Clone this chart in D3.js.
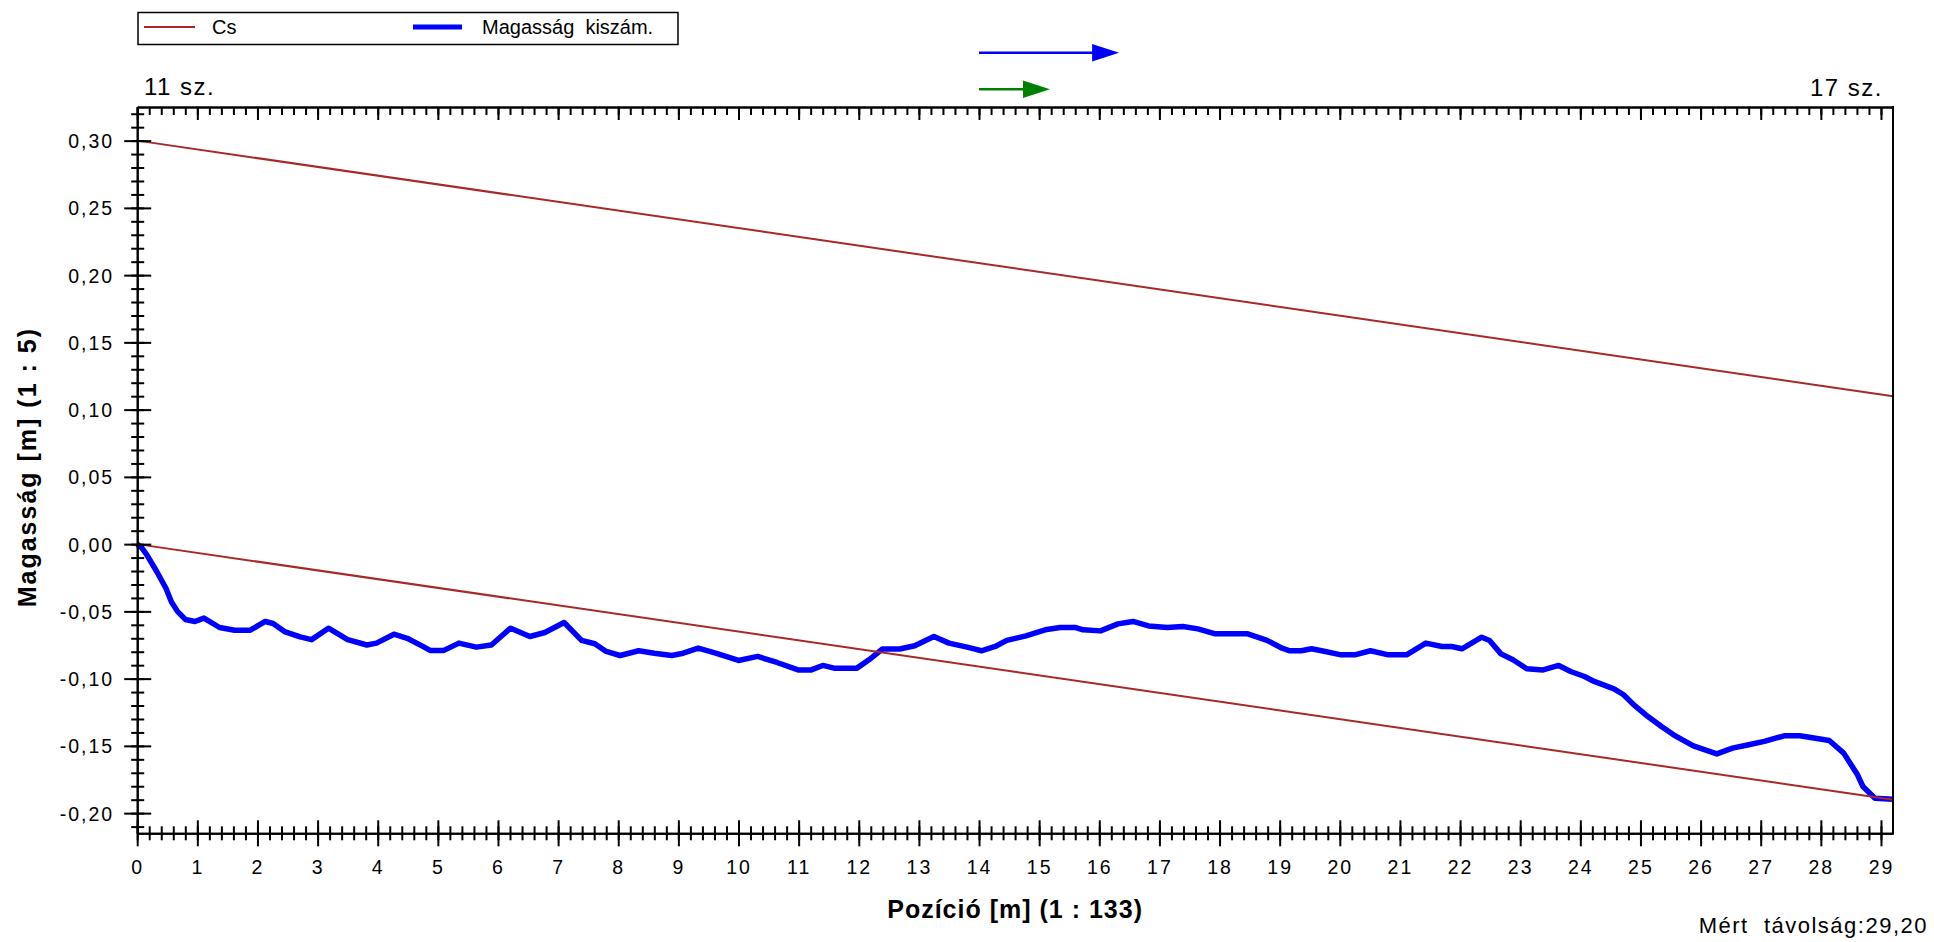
<!DOCTYPE html>
<html>
<head>
<meta charset="utf-8">
<script src="https://cdn.jsdelivr.net/npm/d3@7"></script>
<style>
  html, body { margin: 0; padding: 0; background: #fff; }
  svg { display: block; font-family: "Liberation Sans", Arial, Helvetica, sans-serif; }
</style>
</head>
<body>
<svg id="chart" width="1934" height="942"></svg>
<script>
// ---------- data ----------
const posX = [0,0.08,0.16,0.32,0.48,0.57,0.67,0.80,0.96,1.11,1.37,1.62,1.88,2.13,2.26,2.45,2.71,2.90,3.18,3.50,3.82,3.98,4.27,4.49,4.75,4.87,5.10,5.35,5.64,5.89,6.21,6.53,6.78,7.10,7.39,7.61,7.80,8.03,8.34,8.60,8.89,9.08,9.33,9.62,10.0,10.32,10.64,10.99,11.21,11.40,11.59,11.97,12.17,12.39,12.68,12.93,13.25,13.50,13.82,14.04,14.27,14.46,14.78,15.10,15.35,15.61,15.73,16.02,16.31,16.56,16.82,17.13,17.39,17.64,17.93,18.47,18.79,19.04,19.17,19.36,19.53,19.76,20.02,20.25,20.51,20.81,21.11,21.43,21.70,21.86,22.03,22.36,22.49,22.68,22.88,23.11,23.38,23.64,23.84,24.07,24.23,24.56,24.72,24.89,25.09,25.35,25.55,25.88,26.27,26.53,26.80,27.06,27.39,27.65,27.91,28.14,28.38,28.61,28.70,28.90,29.20];
const heightCalc = [0,-0.003,-0.008,-0.020,-0.033,-0.043,-0.050,-0.056,-0.0575,-0.055,-0.062,-0.064,-0.064,-0.0575,-0.059,-0.065,-0.069,-0.071,-0.0625,-0.071,-0.075,-0.0736,-0.067,-0.070,-0.076,-0.079,-0.079,-0.0736,-0.0766,-0.075,-0.0625,-0.0687,-0.0657,-0.0583,-0.0716,-0.0741,-0.0798,-0.0828,-0.0793,-0.0811,-0.0828,-0.0811,-0.0773,-0.081,-0.0865,-0.0835,-0.088,-0.0935,-0.0935,-0.0902,-0.0922,-0.0922,-0.086,-0.078,-0.078,-0.0756,-0.0687,-0.0736,-0.0768,-0.0793,-0.0761,-0.0716,-0.0682,-0.0637,-0.062,-0.062,-0.0637,-0.0645,-0.0593,-0.0575,-0.0608,-0.062,-0.0612,-0.063,-0.0667,-0.0667,-0.0716,-0.0774,-0.0793,-0.0793,-0.0778,-0.0798,-0.0823,-0.0823,-0.0793,-0.0823,-0.0823,-0.0736,-0.0761,-0.0761,-0.0778,-0.0692,-0.0716,-0.0816,-0.086,-0.0927,-0.0935,-0.0902,-0.0947,-0.0984,-0.1021,-0.1076,-0.112,-0.1195,-0.127,-0.1356,-0.1418,-0.150,-0.156,-0.1517,-0.1492,-0.1467,-0.1425,-0.1425,-0.1443,-0.146,-0.1554,-0.1715,-0.1802,-0.1889,-0.1896];

// Cs reference lines (start / end)
const csUpperX = [0, 29.2];
const csUpperY = [0.30, 0.11];
const csLowerX = [0, 29.2];
const csLowerY = [0.00, -0.19];

// direction arrows (start, end positions in m)
const arrowBlue = [14, 16.33];
const arrowGreen = [14, 15.18];

// axis ticks
const xMajorTicks = d3.range(0, 30, 1);
const xMinorTicks = d3.range(0, 146, 1).map(i => +(i * 0.2).toFixed(2));
const yMajorTicks = [-0.20,-0.15,-0.10,-0.05,0.00,0.05,0.10,0.15,0.20,0.25,0.30];
const yMinorTicks = d3.range(-21, 33, 1).map(i => +(i * 0.01).toFixed(2));

const legendLabels = ["Cs", "Magasság  kiszám."];
const xTitle = "Pozíció [m] (1 : 133)";
const yTitle = "Magasság [m] (1 : 5)";
const leftStation = "11 sz.";
const rightStation = "17 sz.";
const distanceNote = "Mért  távolság:29,20";

// ---------- layout ----------
const svg = d3.select("#chart");
const L = 137.2, R = 1893, T = 107, B = 833.3;
const x = d3.scaleLinear().domain([0, 29.2]).range([L, R]);
const y = d3.scaleLinear().domain([-0.215, 0.325]).range([B, T]);

const fmt = v => d3.format(".2f")(v).replace(".", ",").replace("−", "-");

// ---------- series ----------
const blueData = posX.map((d, i) => [d, heightCalc[i]]);
const line = d3.line().x(d => x(d[0])).y(d => y(d[1]));

svg.append("path")
  .datum(blueData)
  .attr("d", line)
  .attr("fill", "none")
  .attr("stroke", "#0000ff")
  .attr("stroke-width", 5.5)
  .attr("stroke-linejoin", "round");

[[csUpperX, csUpperY], [csLowerX, csLowerY]].forEach(([xs, ys]) => {
  svg.append("path")
    .datum(xs.map((d, i) => [d, ys[i]]))
    .attr("d", line)
    .attr("fill", "none")
    .attr("stroke", "#a82828")
    .attr("stroke-width", 2);
});

// ---------- axes ----------
function styleAxis(g) {
  g.selectAll("path.domain").attr("stroke", "#000").attr("stroke-width", 2);
  g.selectAll(".tick line").attr("stroke", "#000").attr("stroke-width", 2);
}

// bottom minor
const gxMinor = svg.append("g").attr("transform", `translate(0,${B})`)
  .call(d3.axisBottom(x).tickValues(xMinorTicks).tickSize(7).tickSizeOuter(0).tickFormat(""));
gxMinor.selectAll(".tick line").attr("y1", -7);
styleAxis(gxMinor);

// bottom major
const gx = svg.append("g").attr("transform", `translate(0,${B})`)
  .call(d3.axisBottom(x).tickValues(xMajorTicks).tickSize(13).tickSizeOuter(0).tickFormat(d3.format("d")));
gx.selectAll(".tick line").attr("y1", -13);
gx.selectAll(".tick text")
  .attr("y", 41).attr("dy", 0)
  .attr("fill", "#000")
  .style("font-size", "19.5px")
  .style("letter-spacing", "2px")
  .style("font-family", "'Liberation Sans', Arial, sans-serif");
styleAxis(gx);

// left minor
const gyMinor = svg.append("g").attr("transform", `translate(${L},0)`)
  .call(d3.axisLeft(y).tickValues(yMinorTicks).tickSize(6).tickSizeOuter(0).tickFormat(""));
gyMinor.selectAll(".tick line").attr("x1", 7);
styleAxis(gyMinor);

// left major
const gy = svg.append("g").attr("transform", `translate(${L},0)`)
  .call(d3.axisLeft(y).tickValues(yMajorTicks).tickSize(13).tickSizeOuter(0).tickFormat(fmt));
gy.selectAll(".tick line").attr("x1", 14);
gy.selectAll(".tick text")
  .attr("x", -23).attr("dy", "0.36em")
  .attr("fill", "#000")
  .style("font-size", "19.5px")
  .style("letter-spacing", "2px")
  .style("font-family", "'Liberation Sans', Arial, sans-serif");
styleAxis(gy);

// top border with inward ticks
const gtMinor = svg.append("g").attr("transform", `translate(0,${T})`)
  .call(d3.axisBottom(x).tickValues(xMinorTicks).tickSize(8).tickSizeOuter(0).tickFormat(""));
styleAxis(gtMinor);
const gtMajor = svg.append("g").attr("transform", `translate(0,${T})`)
  .call(d3.axisBottom(x).tickValues(xMajorTicks).tickSize(13).tickSizeOuter(0).tickFormat(""));
styleAxis(gtMajor);

// right border
svg.append("line")
  .attr("x1", R).attr("x2", R).attr("y1", T - 1).attr("y2", B + 1)
  .attr("stroke", "#000").attr("stroke-width", 2);

// ---------- titles ----------
svg.append("text")
  .attr("x", (L + R) / 2).attr("y", 918)
  .attr("text-anchor", "middle")
  .style("font-size", "25px").style("font-weight", "bold").style("letter-spacing", "1px")
  .text(xTitle);

svg.append("text")
  .attr("transform", `translate(36,${(T + B) / 2 - 3}) rotate(-90)`)
  .attr("text-anchor", "middle")
  .style("font-size", "25px").style("font-weight", "bold").style("letter-spacing", "2px")
  .text(yTitle);

svg.append("text")
  .attr("x", 144).attr("y", 95)
  .style("font-size", "24px").style("letter-spacing", "1.5px")
  .text(leftStation);

svg.append("text")
  .attr("x", 1883).attr("y", 96)
  .attr("text-anchor", "end")
  .style("font-size", "24px").style("letter-spacing", "1.5px")
  .text(rightStation);

svg.append("text")
  .attr("x", 1928).attr("y", 933)
  .attr("text-anchor", "end")
  .style("font-size", "22px").style("letter-spacing", "1.5px")
  .style("white-space", "pre")
  .text(distanceNote);

// ---------- legend ----------
const lg = svg.append("g");
lg.append("rect")
  .attr("x", 138).attr("y", 12.5).attr("width", 540).attr("height", 32)
  .attr("fill", "#fff").attr("stroke", "#000").attr("stroke-width", 1.5);
lg.append("line").attr("x1", 144).attr("x2", 195).attr("y1", 27).attr("y2", 27)
  .attr("stroke", "#a82828").attr("stroke-width", 2);
lg.append("text").attr("x", 212).attr("y", 34)
  .style("font-size", "20px").text(legendLabels[0]);
lg.append("line").attr("x1", 413).attr("x2", 462).attr("y1", 27).attr("y2", 27)
  .attr("stroke", "#0000ff").attr("stroke-width", 5);
lg.append("text").attr("x", 482).attr("y", 34)
  .style("font-size", "20px").style("white-space", "pre")
  .text(legendLabels[1]);

// ---------- arrows ----------
function arrow(xs, yPos, color) {
  const x0 = x(xs[0]), x1 = x(xs[1]);
  svg.append("line").attr("x1", x0).attr("x2", x1 - 20).attr("y1", yPos).attr("y2", yPos)
    .attr("stroke", color).attr("stroke-width", 2.5);
  svg.append("path")
    .attr("d", `M${x1},${yPos} L${x1 - 27},${yPos - 8.7} L${x1 - 27},${yPos + 8.7} Z`)
    .attr("fill", color);
}
arrow(arrowBlue, 52.7, "#0000ff");
arrow(arrowGreen, 89.3, "#008000");
</script>
</body>
</html>
